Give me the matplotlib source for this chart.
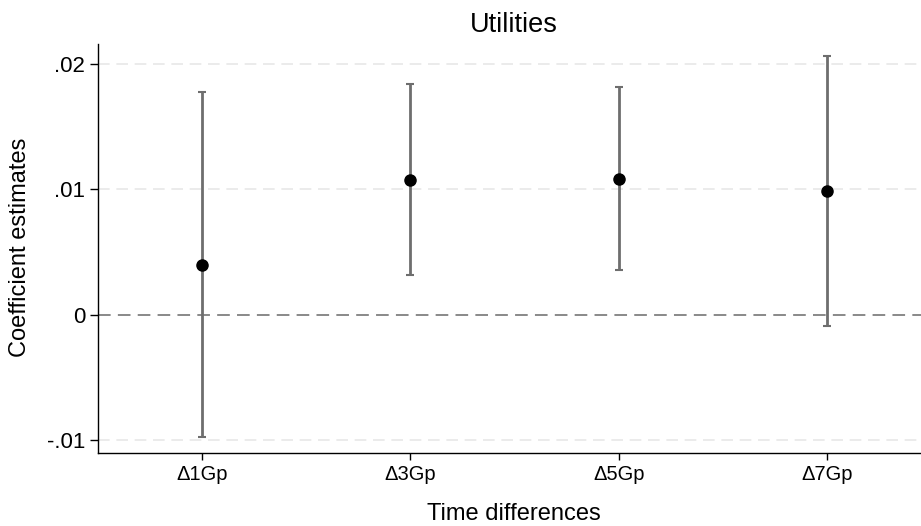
import matplotlib

matplotlib.use("Agg")
import matplotlib.pyplot as plt

plt.rcParams["font.family"] = ["Liberation Sans", "DejaVu Sans"]

GRIS = "#6e6e6e"

etiquettes = ["\u03941Gp", "\u03943Gp", "\u03945Gp", "\u03947Gp"]
coef = [0.0040, 0.01076, 0.01084, 0.00983]
borne_bas = [-0.00975, 0.00319, 0.00356, -0.0009]
borne_haut = [0.01779, 0.01838, 0.01814, 0.02061]

yticks = [-0.01, 0, 0.01, 0.02]
ytick_labels = ["-.01", "0", ".01", ".02"]

W, H = 921, 526
fig = plt.figure(figsize=(W / 100, H / 100), dpi=100)
fig.patch.set_facecolor("white")
ax = fig.add_axes([97.7 / W, (H - 453) / H, 1 - 97.7 / W, (453 - 44) / H])

x = list(range(1, len(etiquettes) + 1))
for yy in yticks:
    if yy != 0:
        ax.axhline(yy, color="#e8e8e8", lw=1.2, ls=(0, (7, 4)), zorder=0)
ax.axhline(0, color="#808080", lw=1.3, ls=(0, (7, 4)), zorder=1)

err_bas = [c - b for c, b in zip(coef, borne_bas)]
err_haut = [h - c for c, h in zip(coef, borne_haut)]
ax.errorbar(x, coef, yerr=[err_bas, err_haut], fmt="none", ecolor=GRIS,
            elinewidth=2.0, capsize=3, capthick=1.5, zorder=2)
ax.plot(x, coef, "o", color="black", markersize=8, zorder=3)

ax.set_xlim(0.5, 4.45)
ax.set_ylim(-0.01104, 0.0216)
ax.set_xticks(x, etiquettes)
ax.set_yticks(yticks, ytick_labels)
ax.tick_params(axis="x", labelsize=14.5, length=5, width=1, pad=4)
ax.tick_params(axis="y", labelsize=16, length=6, width=1, pad=3)
ax.spines[["top", "right"]].set_visible(False)
ax.spines[["left", "bottom"]].set_linewidth(1)

fig.text(20 / W, 1 - 247.5 / H, "Coefficient estimates", rotation=90,
         ha="center", va="center", fontsize=17)
fig.text(514 / W, 1 - 520 / H, "Time differences", ha="center",
         va="baseline", fontsize=17)
fig.text(514 / W, 1 - 32.3 / H, "Utilities", ha="center", va="baseline",
         fontsize=19.5)

fig.savefig("out.png", dpi=100, facecolor="white")
